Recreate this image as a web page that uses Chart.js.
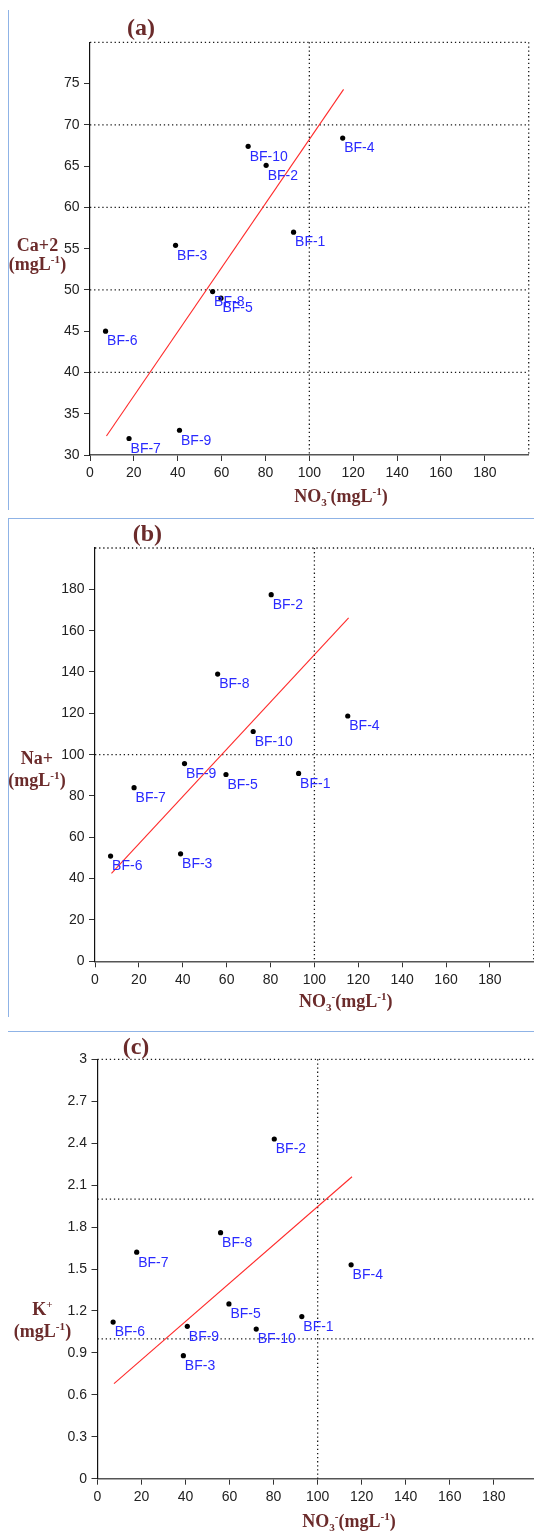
<!DOCTYPE html>
<html><head><meta charset="utf-8">
<script src="https://cdn.jsdelivr.net/npm/chart.js@4.4.1/dist/chart.umd.min.js"></script>
<style>
html,body{margin:0;padding:0;background:#fff;overflow:hidden;width:534px;height:1532px;position:relative}
canvas{position:absolute;left:0}
.bl{position:absolute;background:#8fb3e6}
</style></head><body>
<div class="bl" style="left:7.5px;top:10px;width:1.5px;height:500px"></div>
<div class="bl" style="left:7.5px;top:517.5px;width:527px;height:1.5px"></div>
<div class="bl" style="left:7.5px;top:518px;width:1.5px;height:499px"></div>
<div class="bl" style="left:7.5px;top:1030.5px;width:527px;height:1.5px"></div>
<canvas id="ca" width="545" height="515" style="top:0px"></canvas>
<canvas id="cb" width="545" height="513" style="top:515px"></canvas>
<canvas id="cc" width="545" height="504" style="top:1028px"></canvas>
<script>
// ---- data ----
const sites = ['BF-1','BF-2','BF-3','BF-4','BF-5','BF-6','BF-7','BF-8','BF-9','BF-10'];
const nitrate = [92.8, 80.3, 39.0, 115.2, 59.7, 7.1, 17.8, 55.9, 40.8, 72.1];
const calcium = [57.0, 65.1, 55.4, 68.4, 49.0, 45.0, 32.0, 49.8, 33.0, 67.4];
const sodium = [90.9, 177.4, 52.0, 118.7, 90.4, 50.9, 84.0, 139.0, 95.7, 111.2];
const potassium = [1.16, 2.43, 0.88, 1.53, 1.25, 1.12, 1.62, 1.76, 1.09, 1.07];
const trendX = [7.5, 115.6];
const trendCa = [32.3, 74.3];
const trendNa = [42.6, 166.2];
const trendK = [0.68, 2.16];
// axis: [min, max, step, last labelled tick]
const xAxis = [0, 200, 20, 180];
const caAxis = [30, 80, 5, 75];
const naAxis = [0, 200, 20, 180];
const kAxis = [0, 3, 0.3, 3];
const gridX = [100, 200];
const gridCa = [40, 50, 60, 70, 80];
const gridNa = [100, 200];
const gridK = [1, 2, 3];
const panelLabels = ['(a)', '(b)', '(c)'];
const xTitle = [['NO',0],['3',-1],['-',1],['(mgL',0],['-1',1],[')',0]];
const unitLine = [['(mgL',0],['-1',1],[')',0]];
const yTitleCa = [[['Ca+2',0]], unitLine];
const yTitleNa = [[['Na+',0]], unitLine];
const yTitleK = [[['K',0],['+',1]], unitLine];

const W = 545;
const SANS = '"Liberation Sans", Arial, Helvetica, sans-serif';
const SERIF = '"Liberation Serif", "Times New Roman", Times, serif';
const TITLE_COLOR = '#6b2b2b';

function richWidth(ctx, segs, size) {
  let w = 0;
  for (const [t, m] of segs) {
    ctx.font = 'bold ' + (m ? size * 0.62 : size) + 'px ' + SERIF;
    w += ctx.measureText(t).width;
  }
  return w;
}
function drawRich(ctx, segs, cx, base, size) {
  const w = richWidth(ctx, segs, size);
  let x = cx - w / 2;
  ctx.fillStyle = TITLE_COLOR;
  ctx.textBaseline = 'alphabetic';
  ctx.textAlign = 'left';
  for (const [t, m] of segs) {
    const s = m ? size * 0.62 : size;
    ctx.font = 'bold ' + s + 'px ' + SERIF;
    const dy = m === 1 ? -size * 0.38 : (m === -1 ? size * 0.2 : 0);
    ctx.fillText(t, x, base + dy);
    x += ctx.measureText(t).width;
  }
}

const deco = {
  id: 'deco',
  beforeDatasetsDraw(chart, args, o) {
    const {ctx, chartArea: a, scales: {x, y}} = chart;
    ctx.save();
    ctx.strokeStyle = '#1a1a1a';
    ctx.lineWidth = 1.3;
    ctx.setLineDash([1.3, 2.8]);
    for (const v of o.gridX) {
      const px = x.getPixelForValue(v);
      ctx.beginPath(); ctx.moveTo(px, a.top); ctx.lineTo(px, a.bottom); ctx.stroke();
    }
    for (const v of o.gridY) {
      const py = y.getPixelForValue(v);
      ctx.beginPath(); ctx.moveTo(a.left, py); ctx.lineTo(a.right, py); ctx.stroke();
    }
    ctx.restore();
  },
  afterDatasetsDraw(chart, args, o) {
    const ctx = chart.ctx;
    const meta = chart.getDatasetMeta(0);
    ctx.save();
    ctx.font = '14px ' + SANS;
    ctx.fillStyle = '#2a2aff';
    ctx.textBaseline = 'alphabetic';
    ctx.textAlign = 'left';
    meta.data.forEach((el, i) => ctx.fillText(o.labels[i], el.x + 1.5, el.y + 14.3));
    ctx.restore();
  },
  afterDraw(chart, args, o) {
    const ctx = chart.ctx;
    ctx.save();
    drawRich(ctx, [[o.panel, 0]], o.panelPos[0], o.panelPos[1], 24);
    drawRich(ctx, xTitle, o.xTitlePos[0], o.xTitlePos[1], 18);
    o.yTitle.forEach((line, i) => drawRich(ctx, line, o.yTitlePos[0], o.yTitlePos[1 + i], 18));
    ctx.restore();
  }
};

function build(id, H, yValues, trendY, yAx, gridY, geo, txt) {
  const tickFont = {family: SANS, size: 14};
  new Chart(document.getElementById(id), {
    type: 'scatter',
    data: {
      datasets: [
        { data: nitrate.map((x, i) => ({x, y: yValues[i]})), pointRadius: 2.6, pointHoverRadius: 2.6,
          pointBackgroundColor: '#000', pointBorderWidth: 0, pointBorderColor: '#000' },
        { data: trendX.map((x, i) => ({x, y: trendY[i]})), showLine: true, borderColor: '#ff2a2a',
          borderWidth: 1.1, pointRadius: 0, pointHoverRadius: 0 }
      ]
    },
    options: {
      responsive: false, animation: false, events: [],
      layout: { padding: { left: 0, top: geo.top, right: W - geo.right, bottom: 0 } },
      plugins: {
        legend: {display: false}, tooltip: {enabled: false},
        deco: { gridX: gridX, gridY: gridY, labels: sites, panel: txt.panel, panelPos: txt.panelPos,
                xTitlePos: txt.xTitlePos, yTitle: txt.yTitle, yTitlePos: txt.yTitlePos }
      },
      scales: {
        x: {
          type: 'linear', position: 'bottom', min: xAxis[0], max: xAxis[1],
          ticks: { stepSize: xAxis[2], autoSkip: false, maxRotation: 0, font: tickFont, color: '#222', padding: 4 },
          afterBuildTicks: s => { s.ticks = s.ticks.filter(t => t.value <= xAxis[3] + 1e-9); },
          afterFit: s => { s.height = H - geo.bottom; },
          grid: { drawOnChartArea: false, drawTicks: true, tickLength: 6, tickColor: '#333', tickWidth: 1 },
          border: { display: true, color: '#555', width: 1.5 }
        },
        y: {
          type: 'linear', position: 'left', min: yAx[0], max: yAx[1],
          ticks: { stepSize: yAx[2], autoSkip: false, font: tickFont, color: '#222', padding: 4.5,
                   callback: v => String(Number(v.toFixed(1))) },
          afterBuildTicks: s => { s.ticks = s.ticks.filter(t => t.value <= yAx[3] + 1e-9); },
          afterFit: s => { s.width = geo.left; },
          grid: { drawOnChartArea: false, drawTicks: true, tickLength: 6, tickColor: '#333', tickWidth: 1 },
          border: { display: true, color: '#111', width: 1.2 }
        }
      }
    },
    plugins: [deco]
  });
}

build('ca', 515, calcium, trendCa, caAxis, gridCa,
  {left: 90, right: 528.7, top: 42.3, bottom: 455},
  {panel: panelLabels[0], panelPos: [141, 34.5], xTitlePos: [341, 502], yTitle: yTitleCa, yTitlePos: [37.5, 250.5, 270]});
build('cb', 513, sodium, trendNa, naAxis, gridNa,
  {left: 95, right: 533.8, top: 33, bottom: 446.3},
  {panel: panelLabels[1], panelPos: [147.4, 26], xTitlePos: [345.7, 492], yTitle: yTitleNa, yTitlePos: [37, 249, 271]});
build('cc', 504, potassium, trendK, kAxis, gridK,
  {left: 97.5, right: 537.8, top: 31.3, bottom: 450.7},
  {panel: panelLabels[2], panelPos: [136, 26], xTitlePos: [349, 499], yTitle: yTitleK, yTitlePos: [42.5, 287, 309]});
</script>
</body></html>
